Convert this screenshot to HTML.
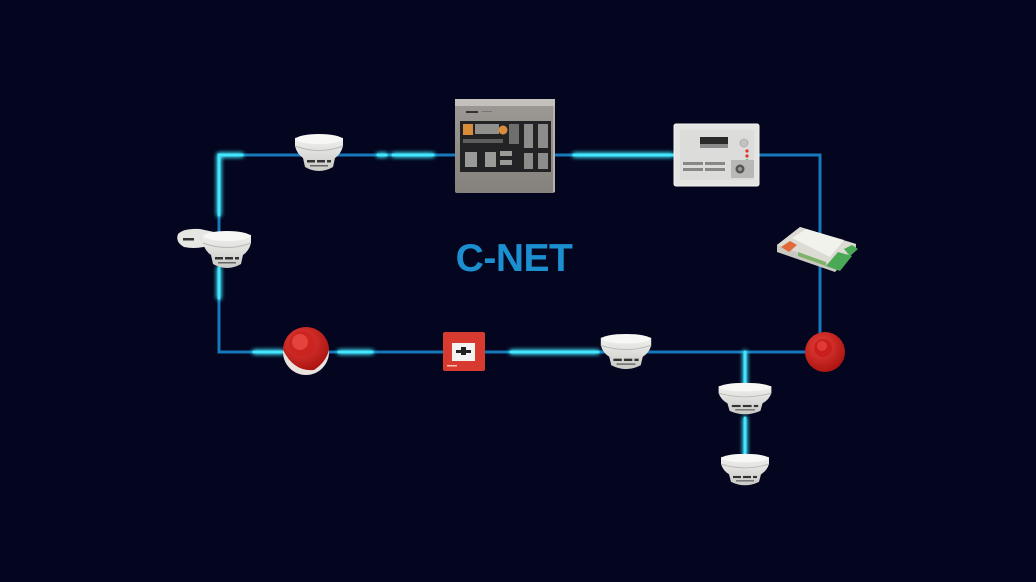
<!DOCTYPE html>
<html><head><meta charset="utf-8"><style>
html,body{margin:0;padding:0;background:#04051e;}
svg{display:block}
</style></head><body>
<svg width="1036" height="582" viewBox="0 0 1036 582" xmlns="http://www.w3.org/2000/svg">
<defs>
<filter id="glow" x="-50%" y="-50%" width="200%" height="200%">
<feGaussianBlur stdDeviation="2.5" result="b"/>
<feMerge><feMergeNode in="b"/><feMergeNode in="b"/><feMergeNode in="SourceGraphic"/></feMerge>
</filter>
<linearGradient id="det" x1="0" y1="0" x2="0" y2="1">
<stop offset="0" stop-color="#f4f4f2"/><stop offset="1" stop-color="#c9c9c6"/>
</linearGradient>
<linearGradient id="panel" x1="0" y1="0" x2="0" y2="1">
<stop offset="0" stop-color="#9d9994"/><stop offset="1" stop-color="#85817c"/>
</linearGradient>
<radialGradient id="red" cx="0.4" cy="0.35" r="0.7">
<stop offset="0" stop-color="#e8403a"/><stop offset="1" stop-color="#a9120f"/>
</radialGradient>
<g id="detector">
<path d="M-24,5 Q0,-2 24,5 L24,13 Q22,21 16,25 L14,34 Q0,42 -14,34 L-16,25 Q-22,21 -24,13 Z" fill="url(#det)"/>
<ellipse cx="0" cy="6" rx="23" ry="5" fill="#f7f7f6"/>
<path d="M-24,13 Q0,22 24,13" fill="none" stroke="#b9b9b6" stroke-width="1"/>
<rect x="-12" y="27" width="8" height="2.5" fill="#333"/>
<rect x="-2" y="27" width="8" height="2.5" fill="#333"/>
<rect x="8" y="27" width="4" height="2.5" fill="#333"/>
<rect x="-9" y="32" width="18" height="1.5" fill="#666"/>
</g>
</defs>
<rect width="1036" height="582" fill="#04051e"/>

<!-- dim lines -->
<g stroke="#1678bb" stroke-width="3" fill="none">
<path d="M219,155 L455,155"/>
<path d="M555,155 L674,155"/>
<path d="M759,155 L820,155 L820,335"/>
<path d="M219,155 L219,352 L808,352"/>
</g>
<!-- bright segments -->
<g stroke="#42e6ff" stroke-width="3" fill="none" filter="url(#glow)" stroke-linecap="round">
<path d="M242,155 L219,155 L219,215"/>
<path d="M219,268 L219,298"/>
<path d="M378,155 L386,155"/>
<path d="M393,155 L433,155"/>
<path d="M574,155 L672,155"/>
<path d="M254,352 L283,352"/>
<path d="M339,352 L372,352"/>
<path d="M511,352 L598,352"/>
<path d="M745,352 L745,385"/>
<path d="M745,418 L745,455"/>
</g>

<!-- top detector -->
<use href="#detector" transform="translate(319,133)"/>

<!-- main panel -->
<rect x="455" y="99" width="100" height="94" rx="2" fill="url(#panel)"/>
<rect x="455" y="99" width="100" height="7" fill="#c4c1bc"/>
<rect x="553" y="106" width="2" height="86" fill="#b5b2ad"/>
<rect x="460" y="121" width="91" height="51" fill="#232326"/>
<rect x="463" y="124" width="10" height="11" fill="#d98d3a"/>
<rect x="475" y="124" width="24" height="10" fill="#8f8f8c"/>
<circle cx="503" cy="130" r="4.5" fill="#d98d3a"/>
<rect x="509" y="124" width="10" height="20" fill="#6e6e6c"/>
<rect x="524" y="124" width="9" height="24" fill="#8c8c8a"/>
<rect x="538" y="124" width="10" height="24" fill="#8c8c8a"/>
<rect x="463" y="139" width="40" height="4" fill="#5d5d5b"/>
<rect x="465" y="152" width="12" height="15" fill="#9a9a98"/>
<rect x="485" y="152" width="11" height="15" fill="#9a9a98"/>
<rect x="500" y="151" width="12" height="5" fill="#9a9a98"/>
<rect x="500" y="160" width="12" height="5" fill="#9a9a98"/>
<rect x="524" y="153" width="9" height="16" fill="#8c8c8a"/>
<rect x="538" y="153" width="10" height="16" fill="#8c8c8a"/>
<rect x="466" y="111" width="12" height="2" fill="#333"/>
<rect x="482" y="111" width="10" height="1" fill="#777"/>

<!-- small panel -->
<rect x="674" y="124" width="85" height="62" rx="2" fill="#e4e4e2" stroke="#f4f4f4" stroke-width="1"/>
<rect x="680" y="130" width="74" height="50" fill="#dcdcda"/>
<rect x="700" y="137" width="28" height="7" fill="#2a2a2a"/>
<rect x="700" y="144" width="28" height="4" fill="#8a8a8a"/>
<circle cx="744" cy="143" r="4" fill="#c4c4c4" stroke="#999" stroke-width="0.6"/>
<circle cx="747" cy="151" r="1.6" fill="#e5322a"/>
<circle cx="747" cy="156" r="1.6" fill="#e5322a"/>
<circle cx="747" cy="161" r="1.6" fill="#1aa07a"/>
<rect x="683" y="162" width="20" height="3" fill="#888"/>
<rect x="683" y="168" width="20" height="3" fill="#888"/>
<rect x="705" y="162" width="20" height="3" fill="#888"/>
<rect x="705" y="168" width="20" height="3" fill="#888"/>
<rect x="731" y="160" width="23" height="18" fill="#b8b8b6"/>
<circle cx="740" cy="169" r="4.5" fill="#555"/>
<circle cx="740" cy="169" r="2" fill="#999"/>

<!-- module -->
<path d="M777,245 L800,227 L856,244 L856,250 L835,272 L777,252 Z" fill="#c9c9c2"/>
<path d="M777,245 L800,227 L856,244 L835,266 Z" fill="#dcdcd4"/>
<path d="M792,238 L806,229 L844,240 L830,257 Z" fill="#f2f2ed"/>
<path d="M781,247 L790,241 L797,245 L789,252 Z" fill="#e06a3a"/>
<path d="M826,266 L838,252 L852,256 L840,271 Z" fill="#4aa957"/>
<path d="M844,249 L852,245 L858,249 L850,256 Z" fill="#4aa957"/>
<path d="M798,252 L826,262 L826,266 L798,256 Z" fill="#7fb26a"/>

<!-- left detector with base -->
<path d="M178,234 Q184,228 200,229 L214,232 L214,244 Q198,250 184,247 Q175,242 178,234 Z" fill="#e6e6e3"/>
<rect x="183" y="238" width="11" height="2.5" fill="#333"/>
<use href="#detector" transform="translate(227,230)"/>

<!-- bottom left sounder -->
<circle cx="306" cy="352" r="23" fill="#e9e3df"/>
<path d="M283,350 A23,23 0 0 1 329,350 Q326,362 314,370 Q294,372 283,350 Z" fill="url(#red)"/>
<circle cx="302" cy="344" r="13" fill="#cc2420"/>
<circle cx="300" cy="342" r="8" fill="#e4443c"/>

<!-- call point -->
<rect x="443" y="332" width="42" height="39" rx="2" fill="#d93a2f"/>
<rect x="452" y="343" width="23" height="18" fill="#f2f2f2"/>
<rect x="456" y="350" width="15" height="3" fill="#222"/>
<rect x="461" y="347" width="5" height="8" fill="#222"/>
<rect x="447" y="365" width="10" height="1.5" fill="#f4c0b0"/>

<!-- bottom detector -->
<use href="#detector" transform="translate(626,333) scale(1.05,0.95)"/>

<!-- right sounder -->
<circle cx="825" cy="352" r="20" fill="url(#red)"/>
<circle cx="823" cy="348" r="9" fill="#c81f1c"/>
<circle cx="822" cy="346" r="5" fill="#df3b34"/>

<!-- branch detectors -->
<use href="#detector" transform="translate(745,382) scale(1.1,0.85)"/>
<use href="#detector" transform="translate(745,453) scale(1.0,0.85)"/>

<!-- label -->
<text x="514" y="271" text-anchor="middle" font-family="Liberation Sans, sans-serif" font-weight="bold" font-size="39" fill="#1b8fd0" letter-spacing="-0.5">C-NET</text>
</svg>
</body></html>
